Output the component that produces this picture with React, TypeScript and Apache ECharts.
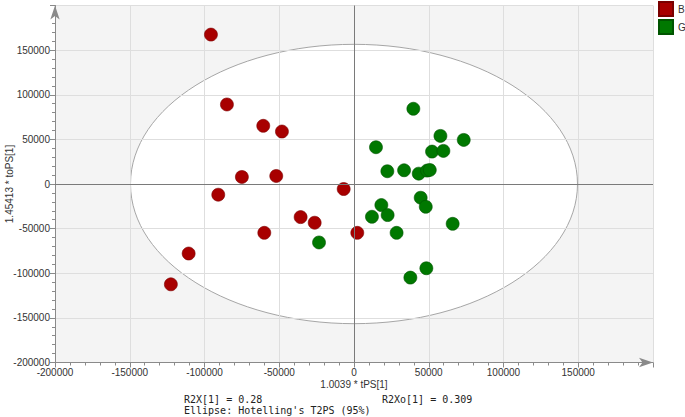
import React, { useEffect, useRef } from "react";
import * as echarts from "echarts";

// ---- data ----
const groupNames = ["B", "G"];
const groupColors = ["#a80000", "#007800"];
const groupBorders = ["#7a0000", "#005400"];

const bPoints: number[][] = [
  [-95700, 167400],
  [-85000, 89100],
  [-60700, 65200],
  [-48200, 58800],
  [-75000, 7900],
  [-52000, 9000],
  [-90800, -12000],
  [-6900, -5600],
  [-35700, -37100],
  [-26300, -43400],
  [-60000, -54700],
  [2200, -54700],
  [-110600, -77900],
  [-122500, -112400],
];

const gPoints: number[][] = [
  [39700, 84300],
  [57800, 53900],
  [73400, 49400],
  [14700, 41200],
  [52200, 36300],
  [59800, 37100],
  [22300, 14300],
  [33500, 15400],
  [43300, 11600],
  [48900, 15000],
  [50700, 15700],
  [44600, -15400],
  [48000, -25500],
  [18300, -23600],
  [12000, -36700],
  [22500, -34800],
  [66000, -44600],
  [28500, -54700],
  [48400, -94400],
  [37700, -104900],
  [-23400, -65500],
];

const ellipseCenter = [0, 0];
const ellipseRadii = [149500, 156500];

const xRange = [-200000, 200000];
const yRange = [-200000, 200000];
const tickStep = 50000;

const xAxisName = "1.0039 * tPS[1]";
const yAxisName = "1.45413 * toPS[1]";
const footerR2X = "R2X[1] = 0.28";
const footerR2Xo = "R2Xo[1] = 0.309";
const footerEllipse = "Ellipse: Hotelling's T2PS (95%)";

const axisFont = "'Liberation Sans', Arial, sans-serif";
const monoFont = "'DejaVu Sans Mono', 'Liberation Mono', monospace";

export default function App() {
  const ref = useRef<HTMLDivElement>(null);

  useEffect(() => {
    if (!ref.current) return;
    const chart = echarts.init(ref.current, undefined, { renderer: "svg" });

    const axisCommon = (name: string, range: number[], isY: boolean) => ({
      type: "value",
      min: range[0],
      max: range[1],
      interval: tickStep,
      name,
      nameLocation: "middle",
      nameGap: isY ? 46 : 22,
      nameMoveOverlap: false,
      nameTruncate: { maxWidth: null },
      nameTextStyle: { fontFamily: axisFont, fontSize: 10, color: "#333", verticalAlign: "middle" },
      axisLine: {
        show: true,
        onZero: false,
        symbol: ["none", "arrow"],
        symbolSize: [7, 14],
        lineStyle: { color: "#8a8a8a", width: 1 },
      },
      axisTick: { show: true, length: 5, lineStyle: { color: "#8a8a8a" } },
      minorTick: { show: true, splitNumber: 5, length: 3, lineStyle: { color: "#8a8a8a" } },
      splitLine: { show: true, lineStyle: { color: "#dedede", width: 1 } },
      axisLabel: {
        fontFamily: axisFont,
        fontSize: 10,
        color: "#333",
        margin: 5,
        showMaxLabel: false,
        formatter: (v: number) => String(v),
      },
      z: 0,
    });

    chart.setOption({
      animation: false,
      grid: {
        left: 55,
        right: 32,
        top: 5.5,
        bottom: 54.5,
        containLabel: false,
        outerBoundsMode: "none",
      },
      xAxis: axisCommon(xAxisName, xRange, false),
      yAxis: axisCommon(yAxisName, yRange, true),
      legend: {
        data: groupNames,
        orient: "vertical",
        left: 658,
        top: 1,
        icon: "rect",
        itemWidth: 14,
        itemHeight: 14,
        itemGap: 2,
        padding: 0,
        textStyle: { fontFamily: axisFont, fontSize: 10, color: "#333" },
      },
      graphic: [
        { type: "text", left: 184, top: 394.5, style: { text: footerR2X, font: `10px ${monoFont}`, fill: "#222" } },
        { type: "text", left: 382, top: 394.5, style: { text: footerR2Xo, font: `10px ${monoFont}`, fill: "#222" } },
        { type: "text", left: 184, top: 405.5, style: { text: footerEllipse, font: `10px ${monoFont}`, fill: "#222" } },
      ],
      series: [
        {
          type: "custom",
          name: "ellipse",
          z: -1,
          silent: true,
          data: [[ellipseCenter[0], ellipseCenter[1], ellipseRadii[0], ellipseRadii[1]]],
          renderItem: (params: any, api: any) => {
            const c = api.coord([api.value(0), api.value(1)]);
            const s = api.size([api.value(2), api.value(3)]);
            const cs = params.coordSys;
            return {
              type: "group",
              children: [
                {
                  type: "rect",
                  shape: { x: cs.x, y: cs.y, width: cs.width, height: cs.height },
                  style: { fill: "#f4f4f4" },
                },
                {
                  type: "ellipse",
                  shape: { cx: c[0], cy: c[1], rx: s[0], ry: s[1] },
                  style: { fill: "#ffffff", stroke: "#a6a6a6", lineWidth: 1 },
                },
              ],
            };
          },
        },
        {
          type: "scatter",
          name: "zero",
          z: 1,
          silent: true,
          data: [],
          markLine: {
            silent: true,
            symbol: ["none", "none"],
            label: { show: false },
            lineStyle: { color: "#7a7a7a", width: 1, type: "solid" },
            data: [{ xAxis: 0 }, { yAxis: 0 }],
          },
        },
        {
          type: "scatter",
          name: groupNames[0],
          z: 3,
          symbolSize: 13,
          itemStyle: { color: groupColors[0], borderColor: groupBorders[0], borderWidth: 0.6, opacity: 1 },
          data: bPoints,
        },
        {
          type: "scatter",
          name: groupNames[1],
          z: 3,
          symbolSize: 13,
          itemStyle: { color: groupColors[1], borderColor: groupBorders[1], borderWidth: 0.6, opacity: 1 },
          data: gPoints,
        },
      ],
    });

    return () => chart.dispose();
  }, []);

  return (
    <div
      ref={ref}
      style={{ position: "fixed", left: 0, top: 0, width: 685, height: 417, background: "#fff" }}
    />
  );
}
